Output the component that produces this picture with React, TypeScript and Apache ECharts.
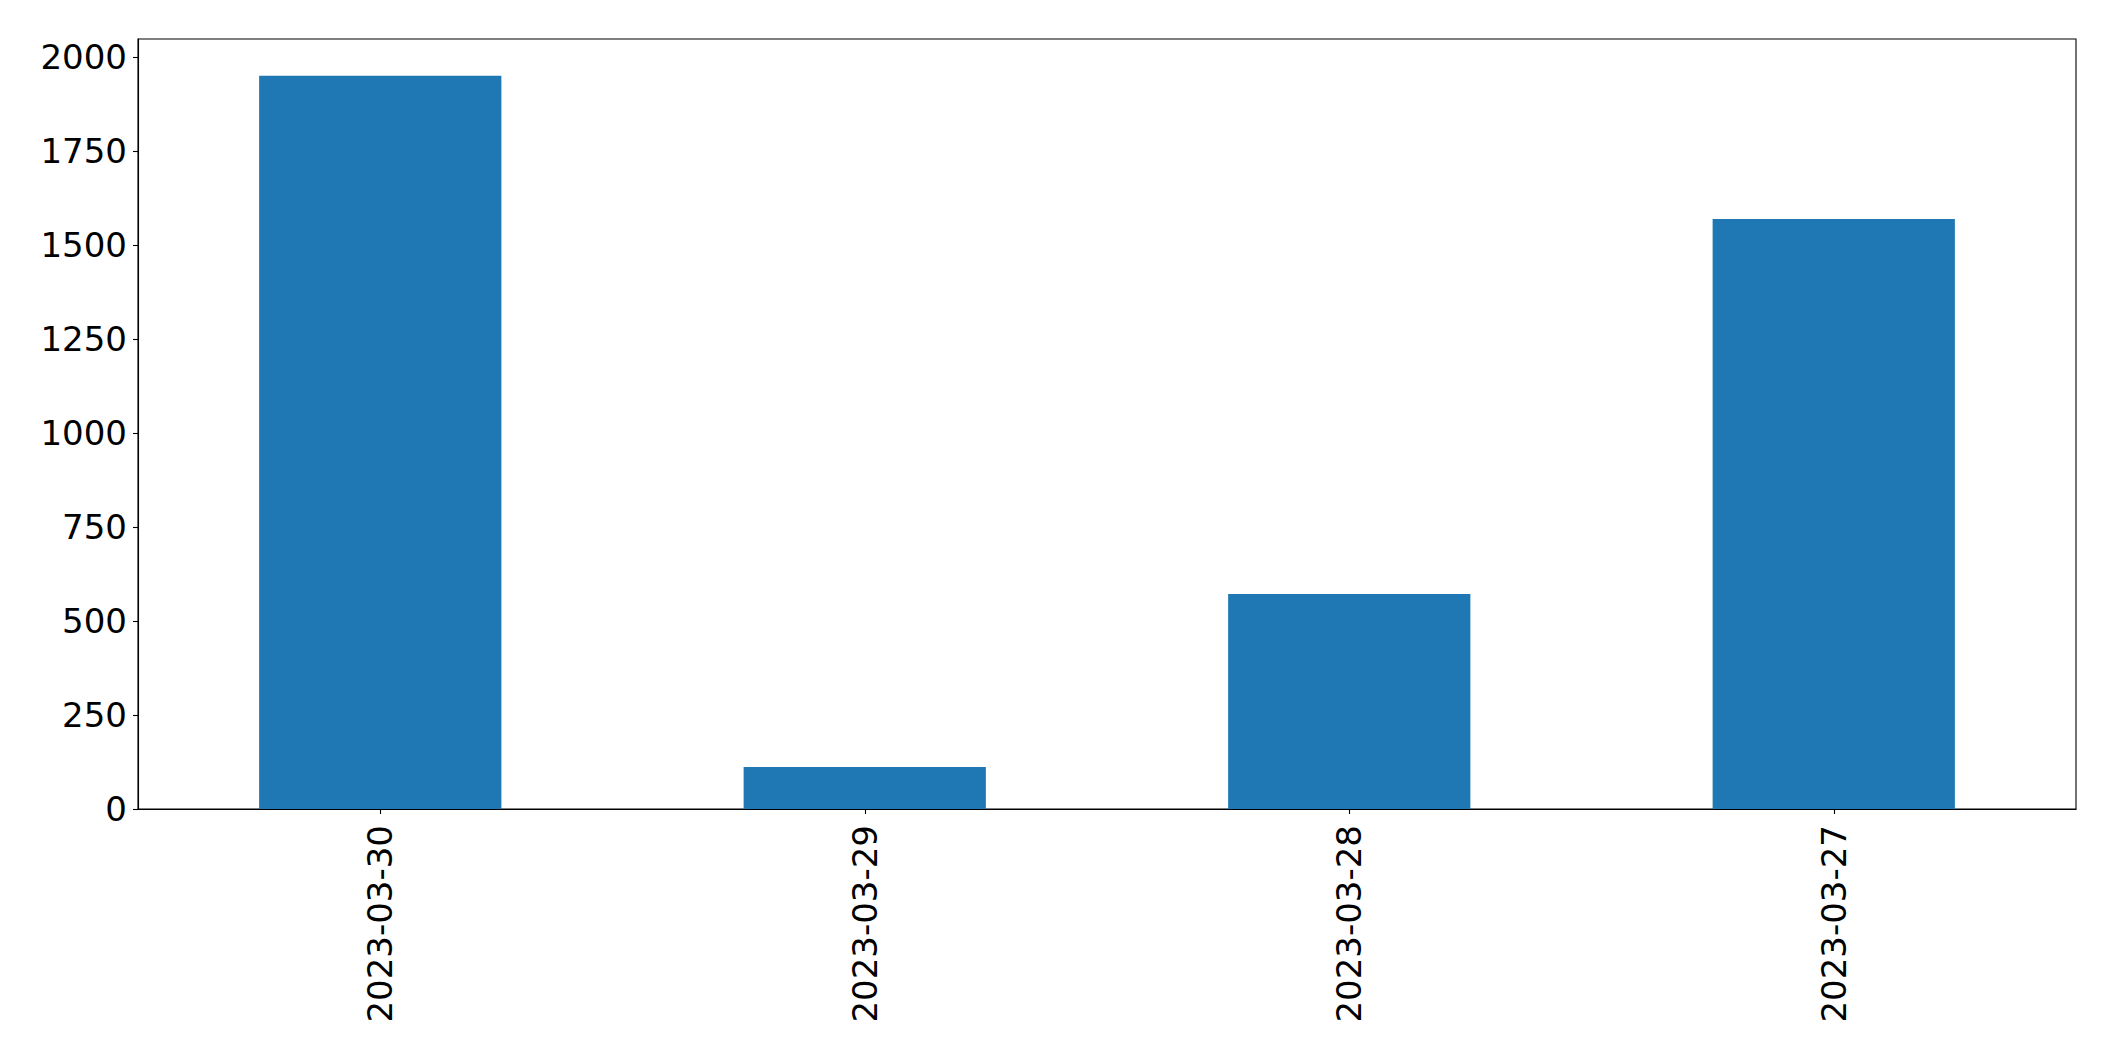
import React, { useEffect, useRef } from "react";
import * as echarts from "echarts";

const categories = ["2023-03-30", "2023-03-29", "2023-03-28", "2023-03-27"];
const values = [1951, 112, 572, 1570];
const yTicks = [0, 250, 500, 750, 1000, 1250, 1500, 1750, 2000];
const yMax = 2049;

export default function App() {
  const ref = useRef<HTMLDivElement>(null);
  useEffect(() => {
    if (!ref.current) return;
    const chart = echarts.init(ref.current, null, { renderer: "svg" });
    const font = { fontFamily: "DejaVu Sans", fontSize: 34, color: "#000" };
    chart.setOption({
      animation: false,
      backgroundColor: "#fff",
      grid: {
        left: 138,
        top: 39,
        right: 39,
        bottom: 252,
        show: true,
        borderColor: "#000",
        borderWidth: 1.1,
        backgroundColor: "transparent",
      },
      xAxis: {
        type: "category",
        data: categories,
        boundaryGap: true,
        axisLine: { show: true, lineStyle: { color: "#000", width: 1.1 } },
        axisTick: { show: true, alignWithLabel: true, length: 5, lineStyle: { color: "#000", width: 1.1 } },
        axisLabel: { ...font, rotate: 90, margin: 16 },
        splitLine: { show: false },
      },
      yAxis: {
        type: "value",
        min: 0,
        max: yMax,
        interval: 250,
        axisLine: { show: true, lineStyle: { color: "#000", width: 1.1 } },
        axisTick: { show: true, length: 5, lineStyle: { color: "#000", width: 1.1 }, customValues: yTicks },
        axisLabel: {
          ...font,
          margin: 11,
          customValues: yTicks,
          formatter: (v: number) => String(v),
        },
        splitLine: { show: false },
      },
      series: [
        {
          type: "bar",
          data: values,
          barWidth: "50%",
          itemStyle: { color: "#1f77b4" },
        },
      ],
    });
    return () => chart.dispose();
  }, []);
  return (
    <div
      ref={ref}
      style={{ position: "fixed", left: 0, top: 0, width: 2115, height: 1061, background: "#fff" }}
    />
  );
}
